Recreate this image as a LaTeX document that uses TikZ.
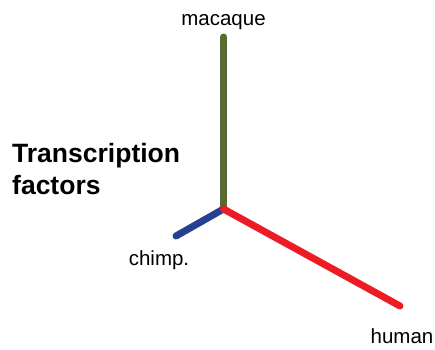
\documentclass[tikz,border=0pt]{standalone}
\usepackage{fontspec}
\setmainfont{Liberation Sans}
\definecolor{macgreen}{RGB}{88,108,50}
\definecolor{chimpblue}{RGB}{38,64,145}
\definecolor{humanred}{RGB}{237,28,36}
\begin{document}
\begin{tikzpicture}[x=1pt,y=-1pt,
  branch/.style={line width=7pt,line cap=round},
  lbl/.style={font=\fontsize{20.5}{24}\selectfont,inner sep=0pt,anchor=base},
  ttl/.style={font=\fontsize{26.5}{32}\selectfont\bfseries,inner sep=0pt,anchor=base west}]
\useasboundingbox (0,0) rectangle (435,349);
\coordinate (o) at (223.5,209);
\coordinate (m) at (223.5,37);
\coordinate (c) at (176,236);
\coordinate (h) at (400,306);
\draw[branch,macgreen] (o) -- (m);
\draw[branch,chimpblue] (o) -- (c);
\draw[branch,humanred] (o) -- (h);
\node[lbl] (ml) at (223.5,25) {macaque};
\node[lbl] (cl) at (159,265) {chimp.};
\node[lbl] (hl) at (402,343) {human};
\node[ttl] (t1) at (12,162) {Transcription};
\node[ttl] (t2) at (12,194) {factors};
\end{tikzpicture}
\end{document}
